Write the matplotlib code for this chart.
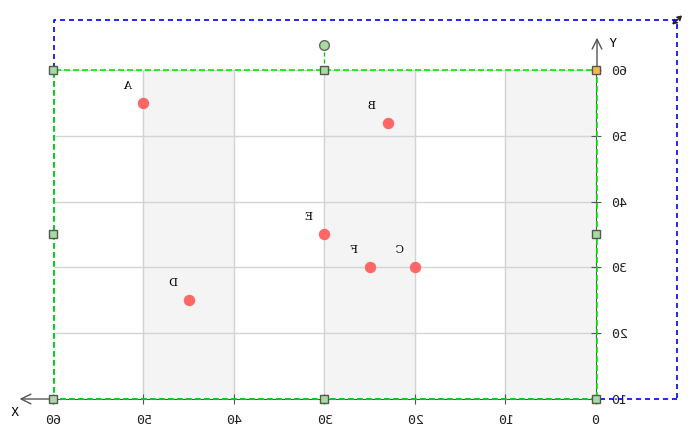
import matplotlib
matplotlib.use("Agg")
import matplotlib.pyplot as plt
import numpy as np

# point data
names = ["A", "B", "C", "D", "E", "F"]
xs = [50, 23, 20, 45, 30, 25]
ys = [55, 52, 30, 25, 35, 30]

x_ticks = [0, 10, 20, 30, 40, 50, 60]
y_ticks = [10, 20, 30, 40, 50, 60]
bands = [(0, 10), (20, 30), (40, 50)]

W, H = 691, 437
fig = plt.figure(figsize=(W / 100, H / 100), dpi=100)
ax = fig.add_axes([94 / W, 38 / H, 543 / W, 329 / H])
ax.set_xlim(0, 60)
ax.set_ylim(10, 60)

# shaded bands and grid
for a, b in bands:
    ax.axvspan(a, b, color="#f4f4f4", zorder=0)
for x in x_ticks[1:]:
    ax.axvline(x, color="#d4d4d4", lw=1, zorder=1)
for y in y_ticks[1:]:
    ax.axhline(y, color="#d4d4d4", lw=1, zorder=1)

# axes with arrows
for s in ["top", "right"]:
    ax.spines[s].set_visible(False)
ax.spines["left"].set_color("#555555")
ax.spines["bottom"].set_color("#555555")
ax.tick_params(direction="inout", length=7, color="#555555", pad=7,
               labelsize=9.5, labelcolor="#222222")
ax.set_xticks(x_ticks)
ax.set_yticks(y_ticks)
for lab in ax.get_xticklabels() + ax.get_yticklabels():
    lab.set_family("DejaVu Sans Mono")

ax.annotate("", xy=(63.8, 10), xytext=(60, 10), annotation_clip=False,
            arrowprops=dict(arrowstyle="->,head_length=0.7,head_width=0.35",
                            color="#555555", lw=1, shrinkA=0, shrinkB=0))
ax.annotate("", xy=(0, 64.9), xytext=(0, 60), annotation_clip=False,
            arrowprops=dict(arrowstyle="->,head_length=0.7,head_width=0.35",
                            color="#555555", lw=1, shrinkA=0, shrinkB=0))
ax.text(64.3, 8.0, "X", fontsize=9, family="DejaVu Sans Mono", ha="center", va="center")
ax.text(-1.8, 64.0, "Y", fontsize=9, family="DejaVu Sans Mono", ha="center", va="center")

# selection boxes
ax.plot([-8.84, 60, 60, -8.84, -8.84], [10, 10, 67.6, 67.6, 10], color="#0000ee",
        lw=1.2, ls=(0, (3, 2.4)), clip_on=False, zorder=5)
ax.plot([0, 60, 60, 0, 0], [10, 10, 60, 60, 10], color="#00ee00",
        lw=1.2, ls=(0, (3.6, 1.8)), clip_on=False, zorder=6)
ax.plot([30, 30], [60, 63.8], color="#22bb22", lw=1, ls=(0, (3, 2)), clip_on=False, zorder=6)
ax.plot([30], [63.8], "o", ms=7, mfc="#a6dca0", mec="#666666", mew=1, clip_on=False, zorder=8)
hx = [0, 30, 60, 60, 60, 30, 0]
hy = [10, 10, 10, 35, 60, 60, 35]
ax.plot(hx, hy, "s", ms=5.5, mfc="#a6dca0", mec="#555555", mew=1, clip_on=False, zorder=8)
ax.plot([0], [60], "s", ms=5.5, mfc="#f8b850", mec="#555555", mew=1, clip_on=False, zorder=8)
ax.annotate("", xy=(-9.4, 68.3), xytext=(-8.3, 66.9), annotation_clip=False,
            arrowprops=dict(arrowstyle="<->,head_length=0.25,head_width=0.15",
                            color="#222222", lw=1.2, shrinkA=0, shrinkB=0))

# points with labels
ax.plot(xs, ys, "o", ms=7.2, color="#ff6666", zorder=7)
for n, x, y in zip(names, xs, ys):
    ax.annotate(n, (x, y), xytext=(16, 17), textcoords="offset pixels",
                ha="center", va="center", fontsize=8, family="DejaVu Serif")

# the reference is drawn mirrored left to right
fig.canvas.draw()
img = np.asarray(fig.canvas.buffer_rgba())
plt.imsave("out.png", img[:, ::-1])
